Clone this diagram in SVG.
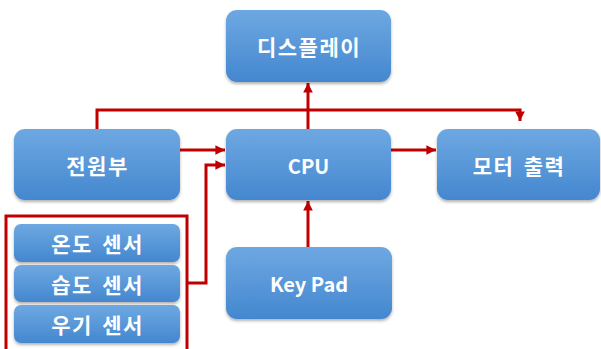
<svg xmlns="http://www.w3.org/2000/svg" width="601" height="349" viewBox="0 0 601 349">
<defs>
<linearGradient id="g" x1="0" y1="0" x2="0" y2="1">
<stop offset="0" stop-color="#6ea8e2"/>
<stop offset="1" stop-color="#4487cf"/>
</linearGradient>
<filter id="sh" x="-10%" y="-10%" width="120%" height="130%">
<feDropShadow dx="0" dy="2" stdDeviation="1.5" flood-color="#000" flood-opacity="0.3"/>
</filter>
<marker id="ah" viewBox="0 0 10 10" refX="10" refY="5" markerWidth="3.2" markerHeight="3.2" orient="auto" markerUnits="strokeWidth">
<path d="M0,0 L10,5 L0,10 z" fill="#c00000"/>
</marker>
<style>
.box{fill:url(#g);filter:url(#sh);}
.t{font-family:"Noto Sans CJK KR","Liberation Sans",sans-serif;font-weight:bold;font-size:20px;fill:#ffffff;text-anchor:middle;dominant-baseline:central;}
.k{font-size:21px;letter-spacing:1.5px;word-spacing:3px;}
.c{fill:none;stroke:#c00000;stroke-width:3;}
</style>
</defs>
<rect x="0" y="0" width="601" height="349" fill="#ffffff"/>
<g id="connectors">
<rect x="6" y="216" width="181" height="140" class="c"/>
<polyline class="c" points="97,129 97,110 520,110 520,121" marker-end="url(#ah)"/>
<line class="c" x1="308" y1="129" x2="308" y2="83" marker-end="url(#ah)"/>
<line class="c" x1="180" y1="150" x2="225" y2="150" marker-end="url(#ah)"/>
<polyline class="c" points="187,283 206,283 206,165 225,165" marker-end="url(#ah)"/>
<line class="c" x1="391" y1="150" x2="436" y2="150" marker-end="url(#ah)"/>
<line class="c" x1="308" y1="247" x2="308" y2="201" marker-end="url(#ah)"/>
</g>
<g id="display"><rect class="box" x="226" y="10" width="165" height="72" rx="11"/><text class="t k" x="309" y="46">디스플레이</text></g>
<g id="cpu"><rect class="box" x="226" y="129" width="165" height="71" rx="11"/><text class="t" x="308.5" y="165">CPU</text></g>
<g id="motor"><rect class="box" x="437" y="129" width="163" height="71" rx="11"/><text class="t k" x="519" y="165">모터 출력</text></g>
<g id="power"><rect class="box" x="14" y="129" width="166" height="71" rx="11"/><text class="t k" x="97.5" y="165">전원부</text></g>
<g id="keypad"><rect class="box" x="226" y="247" width="166" height="72" rx="11"/><text class="t" x="309" y="283">Key Pad</text></g>
<g id="temp"><rect class="box" x="14" y="224" width="166" height="38" rx="7"/><text class="t k" x="97.5" y="243">온도 센서</text></g>
<g id="humid"><rect class="box" x="14" y="265" width="166" height="37" rx="7"/><text class="t k" x="97.5" y="283.5">습도 센서</text></g>
<g id="rain"><rect class="box" x="14" y="305" width="166" height="38" rx="7"/><text class="t k" x="97.5" y="324">우기 센서</text></g>
</svg>
